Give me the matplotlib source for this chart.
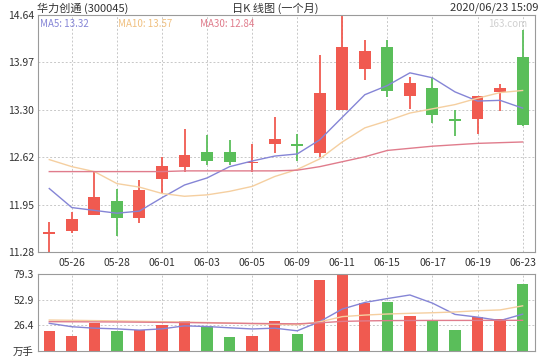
import numpy as np
import matplotlib
matplotlib.use('Agg')
import matplotlib.pyplot as plt

plt.rcParams['font.family'] = ['Noto Sans CJK SC', 'DejaVu Sans']

# trading days, 05-25 .. 06-23
dates = ['05-25', '05-26', '05-27', '05-28', '05-29', '06-01', '06-02', '06-03', '06-04', '06-05', '06-08',
         '06-09', '06-10', '06-11', '06-12', '06-15', '06-16', '06-17', '06-18', '06-19', '06-22', '06-23']

open_ = [11.55, 11.58, 11.81, 12.00, 11.76, 12.32, 12.49, 12.70, 12.70, 12.55, 12.81,
         12.81, 12.69, 13.30, 13.88, 14.18, 13.49, 13.61, 13.16, 13.16, 13.55, 14.05]
close = [11.55, 11.75, 12.06, 11.76, 12.16, 12.50, 12.66, 12.57, 12.55, 12.57, 12.88,
         12.80, 13.54, 14.18, 14.13, 13.56, 13.68, 13.22, 13.15, 13.49, 13.61, 13.08]
high = [11.70, 11.85, 12.43, 12.18, 12.30, 12.63, 13.03, 12.94, 12.87, 12.81, 13.20,
        12.95, 14.08, 14.64, 14.29, 14.29, 13.76, 13.76, 13.30, 13.49, 13.66, 14.43]
low = [11.28, 11.55, 11.80, 11.50, 11.69, 12.10, 12.41, 12.52, 12.51, 12.41, 12.69,
       12.57, 12.63, 13.29, 13.72, 13.48, 13.31, 13.11, 12.93, 12.96, 13.28, 13.06]

ma5 = [12.18, 11.91, 11.87, 11.83, 11.86, 12.05, 12.23, 12.33, 12.49, 12.57, 12.64,
       12.67, 12.87, 13.19, 13.51, 13.64, 13.82, 13.75, 13.55, 13.42, 13.43, 13.32]
ma10 = [12.59, 12.49, 12.42, 12.25, 12.20, 12.11, 12.07, 12.09, 12.14, 12.21, 12.35,
        12.45, 12.60, 12.84, 13.04, 13.14, 13.25, 13.31, 13.37, 13.46, 13.54, 13.57]
ma30 = [12.42, 12.42, 12.42, 12.42, 12.42, 12.42, 12.43, 12.43, 12.43, 12.43, 12.43,
        12.44, 12.49, 12.56, 12.63, 12.72, 12.75, 12.78, 12.80, 12.82, 12.83, 12.84]

# volume, 万手
vol = [20.6, 15.4, 29.2, 20.9, 21.6, 26.8, 30.9, 25.7, 14.7, 15.4, 30.9,
       17.5, 73.1, 79.3, 49.1, 50.8, 36.0, 31.2, 21.6, 34.7, 33.0, 69.0]
vol_ma5 = [28.5, 25.0, 23.5, 22.8, 21.5, 22.8, 25.9, 25.2, 23.9, 22.7, 23.5,
           20.8, 30.3, 43.2, 50.0, 54.0, 57.7, 49.3, 37.7, 34.9, 31.3, 37.9]
vol_ma10 = [31.9, 31.6, 31.3, 31.0, 30.6, 30.2, 29.8, 29.3, 28.7, 28.1, 27.5,
            27.0, 30.0, 35.4, 37.0, 38.1, 38.8, 39.4, 40.2, 41.5, 42.3, 46.5]
vol_ma30 = [30.2, 30.1, 30.0, 29.9, 29.7, 29.5, 29.3, 29.0, 28.7, 28.4, 28.2,
            28.0, 29.0, 30.5, 31.0, 31.3, 31.4, 31.5, 31.5, 31.5, 31.6, 31.6]

price_ticks = [11.28, 11.95, 12.62, 13.30, 13.97, 14.64]
vol_ticks = [0, 26.4, 52.9, 79.3]
vol_labels = ['万手', '26.4', '52.9', '79.3']

RED = '#F05A50'
GREEN = '#5ABE5A'
C_MA5 = '#8585D6'
C_MA10 = '#F5CFA0'
C_MA30 = '#E07C8C'
FRAME = '#9A9A9A'
GRID = '#C8C8C8'
TXT = '#333333'

x = np.arange(len(dates))
o = np.array(open_)
c = np.array(close)
up = c >= o
colors = [RED if u else GREEN for u in up]

fig = plt.figure(figsize=(5.4, 3.6), dpi=100)
ax = fig.add_axes([38 / 540, 1 - 252 / 360, 497 / 540, 237 / 360])
axv = fig.add_axes([38 / 540, 1 - 351 / 360, 497 / 540, 77 / 360])

for a in (ax, axv):
    for s in a.spines.values():
        s.set_color(FRAME)
        s.set_linewidth(0.8)
    a.set_xlim(-0.5, 21.55)
    a.tick_params(length=0, labelsize=7.5, colors=TXT, pad=3)
    for i in x[1::2]:
        a.axvline(i, color=GRID, lw=0.7, ls=(0, (2, 2)), zorder=0)

# price panel
ax.set_ylim(11.28, 14.64)
ax.set_yticks(price_ticks)
ax.set_yticklabels(['%.2f' % t for t in price_ticks])
for t in price_ticks[1:-1]:
    ax.axhline(t, color=GRID, lw=0.7, ls=(0, (2, 2)), zorder=0)

ax.vlines(x, low, high, colors=colors, lw=1.3, zorder=2)
body = np.maximum(np.abs(c - o), 0.025)
bottom = np.minimum(o, c)
bottom = np.where(np.abs(c - o) < 0.025, bottom - 0.0125, bottom)
ax.bar(x, body, bottom=bottom, width=0.53, color=colors, zorder=3)

ax.plot(x, ma5, color=C_MA5, lw=1.0, zorder=4)
ax.plot(x, ma10, color=C_MA10, lw=1.0, zorder=4)
ax.plot(x, ma30, color=C_MA30, lw=1.0, zorder=4)

ax.set_xticks(x[1::2])
ax.set_xticklabels([dates[i] for i in x[1::2]])
ax.tick_params(axis='x', pad=4)

ax.text(0.004, 0.985, 'MA5: %.2f' % ma5[-1], transform=ax.transAxes, color=C_MA5,
        fontsize=7, va='top', ha='left')
ax.text(0.16, 0.985, 'MA10: %.2f' % ma10[-1], transform=ax.transAxes, color='#F0C080',
        fontsize=7, va='top', ha='left')
ax.text(0.325, 0.985, 'MA30: %.2f' % ma30[-1], transform=ax.transAxes, color=C_MA30,
        fontsize=7, va='top', ha='left')
ax.text(0.985, 0.985, '163.com', transform=ax.transAxes, color='#D0D0D0',
        fontsize=7, va='top', ha='right')

# volume panel
axv.set_ylim(0, 79.3)
axv.set_yticks(vol_ticks)
axv.set_yticklabels(vol_labels)
axv.set_xticks([])
for t in vol_ticks[1:3]:
    axv.axhline(t, color=GRID, lw=0.7, ls=(0, (2, 2)), zorder=0)
axv.bar(x, vol, width=0.5, color=colors, zorder=2)
axv.plot(x, vol_ma5, color=C_MA5, lw=1.0, zorder=3)
axv.plot(x, vol_ma10, color=C_MA10, lw=1.0, zorder=3)
axv.plot(x, vol_ma30, color=C_MA30, lw=1.0, zorder=3)

# header
fig.text(37 / 540, 1 - 8 / 360, '华力创通 (300045)', fontsize=8, color=TXT, va='center', ha='left')
fig.text(275 / 540, 1 - 8 / 360, '日K 线图 (一个月)', fontsize=8, color=TXT, va='center', ha='center')
fig.text(538 / 540, 1 - 8 / 360, '2020/06/23 15:09', fontsize=8, color=TXT, va='center', ha='right')

fig.savefig('out.png', dpi=100, facecolor='white')
